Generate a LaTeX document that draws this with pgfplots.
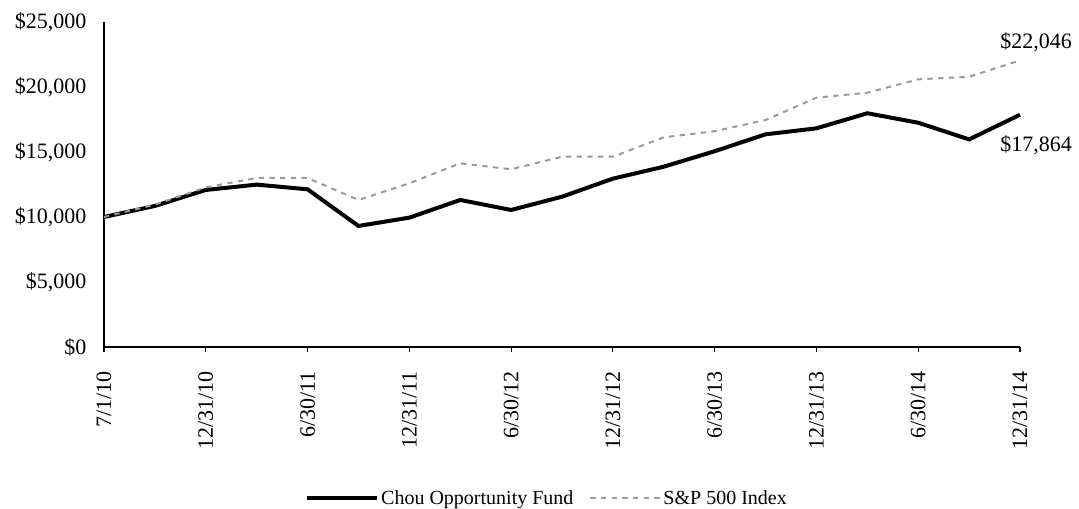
\documentclass[border=0pt]{standalone}
\usepackage{fontspec}
\setmainfont{Liberation Serif}
\usepackage{pgfplots}
\pgfplotsset{compat=1.18}
\definecolor{spgray}{HTML}{9A9A9A}
\begin{document}
\begin{tikzpicture}
\path[use as bounding box] (-78pt,-121.5pt) rectangle (731.25pt,260.25pt);
\begin{axis}[
  scale only axis,
  width=687pt, height=243.75pt,
  at={(0,0)}, anchor=south west,
  xmin=0, xmax=18, ymin=0, ymax=25000,
  axis x line=bottom, axis y line=left,
  axis line style={-, line width=0.9pt},
  xtick={0,2,...,18},
  xticklabels={7/1/10,12/31/10,6/30/11,12/31/11,6/30/12,12/31/12,6/30/13,12/31/13,6/30/14,12/31/14},
  ytick={0,5000,10000,15000,20000,25000},
  scaled ticks=false,
  yticklabels={{\$0},{\$5,000},{\$10,000},{\$15,000},{\$20,000},{\$25,000}},
  /pgf/number format/assume math mode=true,
  tick align=outside,
  x tick style={line width=0.9pt, black},
  major tick length=4pt,
  y tick style={draw=none},
  ticklabel style={font=\fontsize{16.5}{19}\selectfont},
  xticklabel style={rotate=90, anchor=east, inner sep=0pt, xshift=-14pt},
  yticklabel style={anchor=east, inner sep=0pt, xshift=-9pt},
  clip=false,
  legend columns=2,
  legend image code/.code={\draw[#1] (0pt,0pt) -- (52pt,0pt);},
  legend style={draw=none, at={(0.484,-0.465)}, anchor=center,
    font=\fontsize{15}{18}\selectfont,
    nodes={inner xsep=2pt},
    /tikz/every even column/.append style={column sep=10pt}},
  legend cell align=left,
]
\addplot[black, line width=3pt] coordinates {
(0,10000) (1,10850) (2,12080) (3,12490) (4,12130) (5,9310) (6,9950) (7,11310) (8,10540) (9,11560) (10,12950) (11,13870) (12,15060) (13,16360) (14,16820) (15,17980) (16,17250) (17,15970) (18,17864)
};
\addlegendentry{Chou Opportunity Fund}
\addplot[spgray, line width=1.5pt, dash pattern=on 4pt off 4pt] coordinates {
(0,10000) (1,10950) (2,12280) (3,13000) (4,13000) (5,11310) (6,12590) (7,14130) (8,13670) (9,14640) (10,14640) (11,16130) (12,16600) (13,17460) (14,19180) (15,19560) (16,20590) (17,20790) (18,22046)
};
\addlegendentry{S\&P 500 Index}
\node[anchor=west, inner sep=0pt, font=\fontsize{16.5}{19}\selectfont] at (axis cs:17.61,23460) {\$22,046};
\node[anchor=west, inner sep=0pt, font=\fontsize{16.5}{19}\selectfont] at (axis cs:17.61,15540) {\$17,864};
\end{axis}
\end{tikzpicture}
\end{document}
